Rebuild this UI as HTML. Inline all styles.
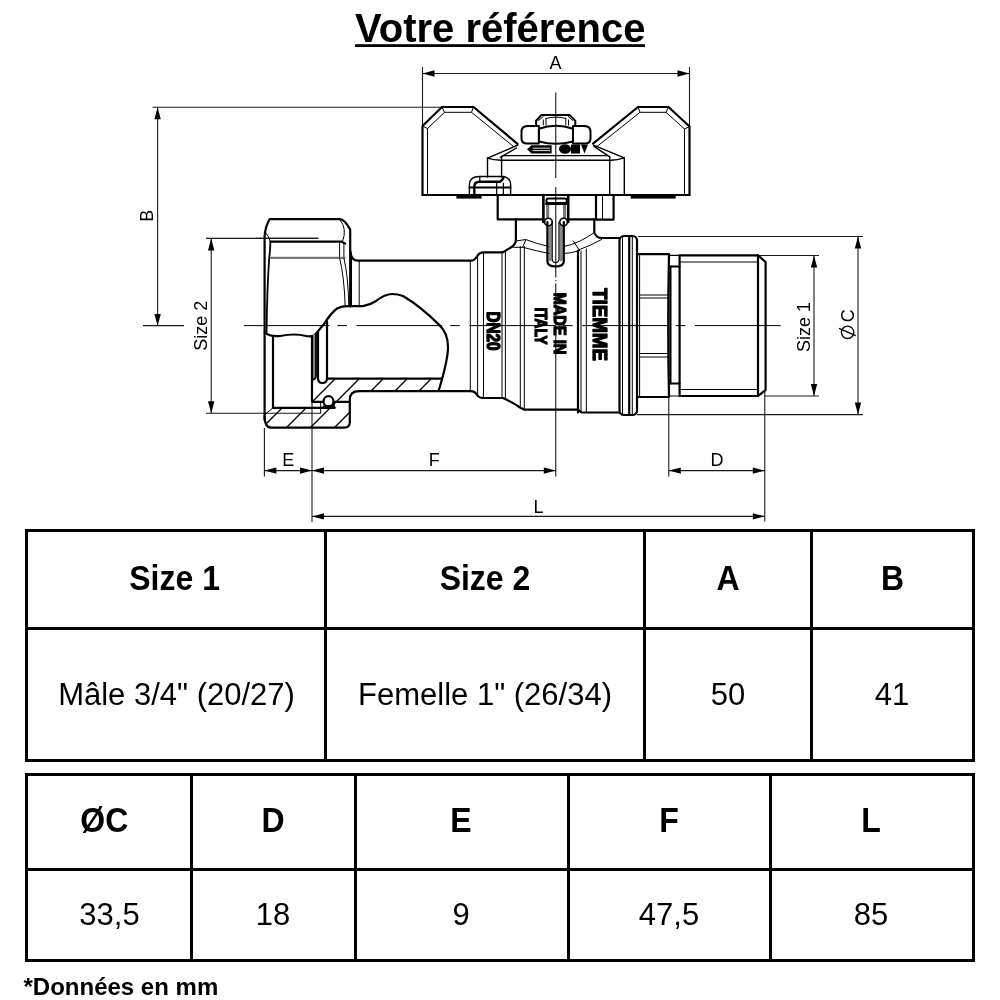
<!DOCTYPE html>
<html><head><meta charset="utf-8"><style>
html,body{margin:0;padding:0;background:#fff;width:1000px;height:1000px;overflow:hidden}
svg{display:block}
text{font-family:"Liberation Sans",sans-serif}
</style></head><body>
<svg style="will-change:transform" width="1000" height="1000" viewBox="0 0 1000 1000" font-family="Liberation Sans">
<g stroke="#000" fill="none">
<line x1="422.5" y1="67" x2="422.5" y2="125" stroke-width="1.1"  stroke="#1a1a1a"/>
<line x1="689.5" y1="67" x2="689.5" y2="126" stroke-width="1.1"  stroke="#1a1a1a"/>
<line x1="422.5" y1="73.5" x2="689.5" y2="73.5" stroke-width="1.1"  stroke="#1a1a1a"/>
</g>
<polygon points="422.5,73.5 434.5,70.3 434.5,76.7" fill="#000" stroke="none"/>
<polygon points="689.5,73.5 677.5,70.3 677.5,76.7" fill="#000" stroke="none"/>
<g stroke="#000" fill="none">
<line x1="152.5" y1="107.3" x2="443" y2="107.3" stroke-width="1.1"  stroke="#1a1a1a"/>
<line x1="157.6" y1="107.3" x2="157.6" y2="326" stroke-width="1.1"  stroke="#1a1a1a"/>
<line x1="143" y1="325.6" x2="184" y2="325.6" stroke-width="1.1"  stroke="#1a1a1a"/>
<line x1="206" y1="238.4" x2="318" y2="238.4" stroke-width="1.1"  stroke="#1a1a1a"/>
<line x1="206" y1="413.3" x2="320.4" y2="413.3" stroke-width="1.1"  stroke="#1a1a1a"/>
<line x1="211.2" y1="238.4" x2="211.2" y2="413.3" stroke-width="1.1"  stroke="#1a1a1a"/>
<line x1="758" y1="255.5" x2="819" y2="255.5" stroke-width="1.1"  stroke="#1a1a1a"/>
<line x1="765" y1="396" x2="819" y2="396" stroke-width="1.1"  stroke="#1a1a1a"/>
<line x1="814" y1="255.5" x2="814" y2="396" stroke-width="1.1"  stroke="#1a1a1a"/>
<line x1="638" y1="236.5" x2="863" y2="236.5" stroke-width="1.1"  stroke="#1a1a1a"/>
<line x1="637" y1="414.6" x2="863" y2="414.6" stroke-width="1.1"  stroke="#1a1a1a"/>
<line x1="858" y1="236.5" x2="858" y2="414.6" stroke-width="1.1"  stroke="#1a1a1a"/>
<line x1="264.4" y1="428" x2="264.4" y2="476.5" stroke-width="1.1"  stroke="#1a1a1a"/>
<line x1="312" y1="403" x2="312" y2="522" stroke-width="1.1"  stroke="#1a1a1a"/>
<line x1="668.8" y1="397" x2="668.8" y2="476.5" stroke-width="1.1"  stroke="#1a1a1a"/>
<line x1="764.8" y1="390" x2="764.8" y2="521.5" stroke-width="1.1"  stroke="#1a1a1a"/>
<line x1="264.4" y1="470.6" x2="555.8" y2="470.6" stroke-width="1.1"  stroke="#1a1a1a"/>
<line x1="668.8" y1="470.6" x2="764.8" y2="470.6" stroke-width="1.1"  stroke="#1a1a1a"/>
<line x1="312" y1="516.4" x2="764.8" y2="516.4" stroke-width="1.1"  stroke="#1a1a1a"/>
</g>
<polygon points="157.6,107.3 154.4,119.3 160.79999999999998,119.3" fill="#000" stroke="none"/>
<polygon points="157.6,326 154.4,314 160.79999999999998,314" fill="#000" stroke="none"/>
<polygon points="211.2,238.4 208.0,250.4 214.39999999999998,250.4" fill="#000" stroke="none"/>
<polygon points="211.2,413.3 208.0,401.3 214.39999999999998,401.3" fill="#000" stroke="none"/>
<polygon points="814,255.5 810.8,267.5 817.2,267.5" fill="#000" stroke="none"/>
<polygon points="814,396 810.8,384 817.2,384" fill="#000" stroke="none"/>
<polygon points="858,236.5 854.8,248.5 861.2,248.5" fill="#000" stroke="none"/>
<polygon points="858,414.6 854.8,402.6 861.2,402.6" fill="#000" stroke="none"/>
<polygon points="264.4,470.6 276.4,467.40000000000003 276.4,473.8" fill="#000" stroke="none"/>
<polygon points="312,470.6 300,467.40000000000003 300,473.8" fill="#000" stroke="none"/>
<polygon points="312,470.6 324,467.40000000000003 324,473.8" fill="#000" stroke="none"/>
<polygon points="555.8,470.6 543.8,467.40000000000003 543.8,473.8" fill="#000" stroke="none"/>
<polygon points="668.8,470.6 680.8,467.40000000000003 680.8,473.8" fill="#000" stroke="none"/>
<polygon points="764.8,470.6 752.8,467.40000000000003 752.8,473.8" fill="#000" stroke="none"/>
<polygon points="312,516.4 324,513.1999999999999 324,519.6" fill="#000" stroke="none"/>
<polygon points="764.8,516.4 752.8,513.1999999999999 752.8,519.6" fill="#000" stroke="none"/>
<text x="555.4" y="69.2" font-size="18" font-weight="normal" text-anchor="middle" >A</text>
<text x="153.2" y="215.8" font-size="18" font-weight="normal" text-anchor="middle" transform="rotate(-90 153.2 215.8)" >B</text>
<text x="207" y="325.7" font-size="18" font-weight="normal" text-anchor="middle" transform="rotate(-90 207 325.7)" >Size 2</text>
<text x="810" y="327" font-size="18" font-weight="normal" text-anchor="middle" transform="rotate(-90 810 327)" >Size 1</text>
<text x="854" y="315.8" font-size="18" font-weight="normal" text-anchor="middle" transform="rotate(-90 854 315.8)" >C</text>
<circle cx="847.6" cy="332.3" r="6.2" fill="none" stroke="#000" stroke-width="1.3"/>
<line x1="839" y1="328.4" x2="855.8" y2="335.7" stroke="#000" stroke-width="1.3"/>
<text x="288.3" y="466" font-size="18" font-weight="normal" text-anchor="middle" >E</text>
<text x="434.3" y="466" font-size="18" font-weight="normal" text-anchor="middle" >F</text>
<text x="717" y="466" font-size="18" font-weight="normal" text-anchor="middle" >D</text>
<text x="538.5" y="512.7" font-size="18" font-weight="normal" text-anchor="middle" >L</text>
<g stroke="#000" fill="none">
<line x1="243.8" y1="325.6" x2="780.6" y2="325.6" stroke-width="1.0" stroke-dasharray="85.6 8 9.6 9.6"/>
<line x1="555.8" y1="92.5" x2="555.8" y2="178" stroke-width="1.0" />
<line x1="555.8" y1="187" x2="555.8" y2="277.5" stroke-width="1.0" />
<line x1="555.8" y1="280" x2="555.8" y2="281" stroke-width="1.0" />
<line x1="555.8" y1="283.5" x2="555.8" y2="476.5" stroke-width="1.0" />
</g>
<g stroke="#000" fill="none" stroke-linejoin="round" stroke-linecap="round">
<path d="M422.5,195 V126 L442,107 H473.5 L517.5,143.8" stroke-width="2.2" />
<path d="M427.5,195 V128.5 L444.5,112.3 H471.5 L513.5,146.5" stroke-width="1.0" />
<line x1="422.5" y1="126" x2="427.5" y2="128.5" stroke-width="1.0" />
<line x1="442" y1="107" x2="444.5" y2="112.3" stroke-width="1.0" />
<line x1="473.5" y1="107" x2="471.5" y2="112.3" stroke-width="1.0" />
<path d="M689.5,195 V126.5 L668.5,107 H638 L593,143.6" stroke-width="2.2" />
<path d="M684.5,195 V129 L666,112.3 H640 L597,146.5" stroke-width="1.0" />
<line x1="689.5" y1="126.5" x2="684.5" y2="129" stroke-width="1.0" />
<line x1="668.5" y1="107" x2="666" y2="112.3" stroke-width="1.0" />
<line x1="638" y1="107" x2="640" y2="112.3" stroke-width="1.0" />
<path d="M422.5,195 H510" stroke-width="2.2" />
<path d="M543.4,195 H689.5" stroke-width="2.2" />
<path d="M497.7,195 H543.4" stroke-width="2.2" />
<path d="M487.5,158.2 L518,145 M624.3,157.8 L593.5,145.2" stroke-width="1.4" />
<path d="M500.5,157.2 L516.5,148 M609.7,156.8 L594,146.3" stroke-width="1.4" />
<path d="M503,155.6 H607" stroke-width="1.4" />
<path d="M487.5,158.2 Q494,160.3 501.5,160.2 H611 Q617,160 624.3,157.8" stroke-width="1.4" />
<path d="M487.5,158.2 V177 M501.6,156.5 V177" stroke-width="1.4" />
<path d="M624.3,157.8 V195 M609.7,157 V195" stroke-width="1.4" />
<path d="M469.4,195 V185 Q469.4,176.5 479.5,176.5 H504 Q510.6,178 510.6,185 V195" stroke-width="1.4" />
<path d="M474.3,195 V187 Q474.3,181.8 479.5,181.8 H499.8 Q502.5,180.5 503.5,177.5" stroke-width="2.4" />
<path d="M469.4,187.4 H510.6" stroke-width="2.0" />
<path d="M479.8,176.5 V181.8 M496.7,183 V195 M503.4,183 V195" stroke-width="1.2" />
<rect x="456.4" y="195.5" width="25.2" height="3.1" fill="#000" stroke="none"/>
<rect x="630.7" y="195.5" width="45" height="3.1" fill="#000" stroke="none"/>
<path d="M538.9,125.9 H527.5 Q521.5,126.2 521.5,131.5 V138.5 Q521.5,143.6 527,143.6 H538.9 Z" stroke-width="2.0" />
<path d="M573,125.9 H584.5 Q590.5,126.2 590.5,131.5 V138.5 Q590.5,143.6 585,143.6 H573 Z" stroke-width="2.0" />
<path d="M538.9,128.8 Q556,122.8 573,128.8 V141.5 Q556,146 538.9,141.5 Z" stroke-width="2.0" />
<path d="M536.1,125.7 V120.75 L541.5,114.9 H569.4 L575.3,120.75 V125.7" stroke-width="2.0" />
<path d="M543.3,125 V120 M546,125 V118.2 M565.8,125 V118.2 M568.5,125 V120 M538.6,120.5 L543.3,116.5 M572.8,120.5 L568.3,116.5" stroke-width="1.0" />
<path d="M546,118.5 Q556,115.6 565.8,118.5" stroke-width="1.0" />
<path d="M527,149.3 L531.5,145.3 H551.6 V153.4 H531.5 Z" fill="#000" stroke="none"/>
<path d="M533,148.2 H549.6 M533,150.6 H549.6" stroke="#fff" stroke-width="0.9"/>
<ellipse cx="565" cy="149" rx="6" ry="4.8" fill="#000" stroke="none"/>
<path d="M571,144.5 H580 V153.6 H571 Z M581,144.5 H588 L584.5,153.6 Z" fill="#000" stroke="none"/>
<path d="M497.7,195 V219.3 H543.4" stroke-width="2.2" />
<path d="M566.8,219.3 H594.3" stroke-width="2.2" />
<path d="M596,195 V219.6 H613.6 V195" stroke-width="2.2" />
<path d="M602.5,195 V219.6" stroke-width="1.0" />
<rect x="546.2" y="204" width="3" height="14" fill="#777" stroke="none"/>
<rect x="563" y="204" width="3" height="14" fill="#777" stroke="none"/>
<rect x="548.6" y="224" width="3" height="37" fill="#888" stroke="none"/>
<rect x="559.8" y="224" width="3" height="37" fill="#888" stroke="none"/>
<path d="M543.4,195 V222 M568.2,195 V222" stroke-width="2.6" />
<rect x="546.4" y="198.4" width="20.4" height="4.6" rx="2" stroke-width="2"/>
<path d="M546,203.8 H567" stroke-width="2.2" />
<circle cx="548.4" cy="222" r="3.8" stroke-width="1.6" fill="#fff"/>
<circle cx="563.6" cy="222" r="3.8" stroke-width="1.6" fill="#fff"/>
<path d="M547.4,222 V261 Q547.4,266.5 555.6,266.5 Q563.8,266.5 563.8,261 V222" stroke-width="2.2" />
<path d="M552.2,222 V259 Q552.2,262.5 555.6,262.5 Q559,262.5 559,259 V222" stroke-width="1.2" />
<path d="M515.9,219.3 V239.5 Q515.9,244 512,246.8 L505.5,250.8 Q503.5,252.4 500,252.4 H483 Q479,252.6 477,256.5 Q474.5,260.7 470.5,260.7 H358 Q351,260.7 350.2,251" stroke-width="2.2" />
<path d="M594.3,219.3 V232.5 Q596,238 602,238 H619.5" stroke-width="2.2" />
<path d="M516,241 L525.8,239.5 Q537,244 548.8,246.5" stroke-width="1.0" />
<path d="M513.5,247.3 L523,247.3 Q537,251 548.8,253.5" stroke-width="1.0" />
<path d="M525.7,240.2 L522.9,246.5" stroke-width="1.0" />
<path d="M564.2,246.5 Q580,243 594.3,232.5" stroke-width="1.0" />
<path d="M564.2,253.5 Q571,253 576.8,251.4" stroke-width="1.0" />
<path d="M573.3,240.9 L579.6,250.7" stroke-width="1.0" />
<path d="M579.6,249.5 Q590,246 601.6,239.5" stroke-width="1.0" />
<path d="M358.8,391.2 H470.5 Q475,391.2 477,395 Q479,398 483,398 H503 Q512,402 520,407.5 L524.4,409.7 H578 L581.6,412.5 H619.5" stroke-width="2.2" />
<line x1="470.3" y1="260.7" x2="470.3" y2="391.2" stroke-width="1.0" />
<line x1="477.6" y1="257.5" x2="477.6" y2="395" stroke-width="1.0" />
<line x1="483.5" y1="253" x2="483.5" y2="398" stroke-width="1.0" />
<line x1="502" y1="252.2" x2="502" y2="398" stroke-width="1.0" />
<line x1="505.4" y1="252.2" x2="505.4" y2="398" stroke-width="1.0" />
<line x1="520.3" y1="246.5" x2="520.3" y2="407.5" stroke-width="1.0" />
<line x1="524.3" y1="246.5" x2="524.3" y2="409.7" stroke-width="1.0" />
<line x1="578" y1="250.5" x2="578" y2="412.5" stroke-width="2.2" />
<line x1="581" y1="251" x2="581" y2="412.5" stroke-width="1.0" />
<line x1="586.3" y1="249" x2="586.3" y2="412.5" stroke-width="1.0" />
<rect x="619.5" y="236" width="17.5" height="179" rx="4.5" stroke-width="2.2"/>
<line x1="622.5" y1="237" x2="622.5" y2="414" stroke-width="1.0" />
<line x1="629.2" y1="236.5" x2="629.2" y2="414.5" stroke-width="2.2" />
<line x1="632.3" y1="237" x2="632.3" y2="414" stroke-width="1.0" />
<path d="M637,254.2 H669 Q667.4,325.6 669,397 H637" stroke-width="2.2" />
<line x1="639.6" y1="255" x2="639.6" y2="396" stroke-width="1.0" />
<path d="M640,295 H668 M640,298 H668 M640,353.5 H668 M640,357 H668" stroke-width="1.0" />
<path d="M669,255.3 H680 M669,396 H680" stroke-width="1.2" />
<path d="M669.5,266.5 H679.5 M669.5,383.5 H679.5" stroke-width="2.2" />
<line x1="670.4" y1="266.5" x2="670.4" y2="383.5" stroke-width="2.2" />
<path d="M679.6,255.3 H758 L765.6,262 V390 L758,396 H679.6 Z" stroke-width="2.2" />
<line x1="758" y1="255.3" x2="758" y2="396" stroke-width="2.2" />
<path d="M680,262 H758 M680,389.5 H758" stroke-width="1.0" />
<path d="M264.6,420 V236 Q265.5,226 269.5,219.2 H340 Q344.5,219.5 350.2,229.5 V306.5" stroke-width="2.2" />
<path d="M264.8,232 Q268.8,235.5 270.4,241.6" stroke-width="1.0" />
<path d="M270.4,241.6 Q270.3,250 269.2,258 Q267,290 266.6,332" stroke-width="1.8" />
<path d="M340,219.8 Q347.5,229 342.5,241.6" stroke-width="1.0" />
<path d="M270.6,241.6 H341.5 L345.3,243.6" stroke-width="2.2" />
<line x1="339.6" y1="242" x2="339.6" y2="257.6" stroke-width="1.0" />
<line x1="343.9" y1="243" x2="343.9" y2="257.6" stroke-width="1.0" />
<path d="M270.8,257.8 H344.4" stroke-width="2.2" stroke="#777"/>
<path d="M339.6,258 Q344.2,276 345.2,306 M343.9,258 Q348.2,276 348.8,306" stroke-width="1.0" />
<line x1="256" y1="238.4" x2="318" y2="238.4" stroke-width="1.1"  stroke="#1a1a1a"/>
<line x1="351.5" y1="252.5" x2="351.5" y2="306.5" stroke-width="1.0" />
<line x1="359.2" y1="260.7" x2="359.2" y2="306" stroke-width="1.0" />
<path d="M264.6,332.4 Q270,337 280,336 Q295,333 306,336 Q311,337 314.5,335.5 Q319,330 324,324 Q331,313 337,308.5 Q342,306 349,306.2 H363 Q370,305 376,301 Q385,294 392,294 Q398,294 403,296 Q420,306 439,324.6 Q448,333 448,347 Q448,360 439,389.5" stroke-width="2.2" />
<path d="M273,336 V407.8 H334.8" stroke-width="2.2" />
<rect x="312" y="334.5" width="4" height="44.5" fill="#888" stroke="none"/>
<path d="M312,336 V401.8 H322.8" stroke-width="2.2" />
<path d="M316,334.5 V376 Q316,379 313,379.5" stroke-width="1.8" />
<path d="M318,331 V378 Q318,383 322.5,383 Q327,383 327,378 V321.6" stroke-width="2.2" />
<path d="M327,378.6 H441" stroke-width="2.2" />
<path d="M334.8,401.8 H349.8" stroke-width="2.2" />
<path d="M322.8,405.4 H332.4 V402 H334.8 V408.6 H322.8 Z" fill="#000" stroke="none"/>
<circle cx="328.5" cy="401.2" r="5" stroke-width="2.2" fill="#fff"/>
<path d="M273,407.8 L265,414.4" stroke-width="1.0" />
<path d="M264.6,416 Q264.8,427.6 271,427.6 H344.5 Q349.8,427.6 349.8,422 V400 Q349.8,391.2 358.8,391.2" stroke-width="2.2" />
<line x1="320.7" y1="402.7" x2="320.7" y2="413.3" stroke-width="1.0" />
<clipPath id="h1"><polygon points="311.4,379 441,379 439,391.2 357,391.2 349.8,398 349.8,402 311.4,402"/></clipPath>
<clipPath id="h2"><polygon points="273,407.8 334,407.8 334,402 349.8,402 350.4,421.6 345,427.6 267,427.6 265,414.4"/></clipPath>
<g clip-path="url(#h1)">
<line x1="192" y1="450" x2="272" y2="370" stroke-width="1.3" />
<line x1="216" y1="450" x2="296" y2="370" stroke-width="1.3" />
<line x1="240" y1="450" x2="320" y2="370" stroke-width="1.3" />
<line x1="264" y1="450" x2="344" y2="370" stroke-width="1.3" />
<line x1="288" y1="450" x2="368" y2="370" stroke-width="1.3" />
<line x1="312" y1="450" x2="392" y2="370" stroke-width="1.3" />
<line x1="336" y1="450" x2="416" y2="370" stroke-width="1.3" />
<line x1="360" y1="450" x2="440" y2="370" stroke-width="1.3" />
<line x1="384" y1="450" x2="464" y2="370" stroke-width="1.3" />
<line x1="408" y1="450" x2="488" y2="370" stroke-width="1.3" />
<line x1="432" y1="450" x2="512" y2="370" stroke-width="1.3" />
<line x1="456" y1="450" x2="536" y2="370" stroke-width="1.3" />
<line x1="480" y1="450" x2="560" y2="370" stroke-width="1.3" />
<line x1="504" y1="450" x2="584" y2="370" stroke-width="1.3" />
</g>
<g clip-path="url(#h2)">
<line x1="192" y1="450" x2="272" y2="370" stroke-width="1.3" />
<line x1="216" y1="450" x2="296" y2="370" stroke-width="1.3" />
<line x1="240" y1="450" x2="320" y2="370" stroke-width="1.3" />
<line x1="264" y1="450" x2="344" y2="370" stroke-width="1.3" />
<line x1="288" y1="450" x2="368" y2="370" stroke-width="1.3" />
<line x1="312" y1="450" x2="392" y2="370" stroke-width="1.3" />
<line x1="336" y1="450" x2="416" y2="370" stroke-width="1.3" />
<line x1="360" y1="450" x2="440" y2="370" stroke-width="1.3" />
<line x1="384" y1="450" x2="464" y2="370" stroke-width="1.3" />
<line x1="408" y1="450" x2="488" y2="370" stroke-width="1.3" />
<line x1="432" y1="450" x2="512" y2="370" stroke-width="1.3" />
<line x1="456" y1="450" x2="536" y2="370" stroke-width="1.3" />
<line x1="480" y1="450" x2="560" y2="370" stroke-width="1.3" />
<line x1="504" y1="450" x2="584" y2="370" stroke-width="1.3" />
</g>
</g>
<g font-family="Liberation Sans" font-weight="bold" fill="#000" stroke="#000" stroke-width="1.3" stroke-linejoin="round">
<text transform="translate(487,331) rotate(90) scale(1,1.05)" font-size="17" text-anchor="middle" textLength="39" lengthAdjust="spacingAndGlyphs">DN20</text>
<text transform="translate(553.5,323.4) rotate(90)" font-size="17" text-anchor="middle" textLength="62" lengthAdjust="spacingAndGlyphs">MADE IN</text>
<text transform="translate(534.6,326) rotate(90)" font-size="17" text-anchor="middle" textLength="37" lengthAdjust="spacingAndGlyphs">ITALY</text>
<text transform="translate(593.4,324.5) rotate(90)" font-size="21" text-anchor="middle" textLength="73" lengthAdjust="spacingAndGlyphs">TIEMME</text>
</g>
<g fill="#000" stroke="none">
<rect x="25" y="529" width="950" height="3"/>
<rect x="25" y="627" width="950" height="3"/>
<rect x="25" y="759" width="950" height="3"/>
<rect x="25" y="529" width="3" height="233"/>
<rect x="324" y="529" width="3" height="233"/>
<rect x="643" y="529" width="3" height="233"/>
<rect x="810" y="529" width="3" height="233"/>
<rect x="972" y="529" width="3" height="233"/>
<rect x="25" y="773" width="950" height="3"/>
<rect x="25" y="868" width="950" height="3"/>
<rect x="25" y="959" width="950" height="3"/>
<rect x="25" y="773" width="3" height="189"/>
<rect x="190" y="773" width="3" height="189"/>
<rect x="354" y="773" width="3" height="189"/>
<rect x="567" y="773" width="3" height="189"/>
<rect x="769" y="773" width="3" height="189"/>
<rect x="972" y="773" width="3" height="189"/>
</g>
<g font-family="Liberation Sans" fill="#000">
<text transform="translate(174.6,590.2) scale(1,1.12)" x="0" y="0" font-size="32" font-weight="bold" text-anchor="middle">Size 1</text>
<text transform="translate(485,590.2) scale(1,1.12)" x="0" y="0" font-size="32" font-weight="bold" text-anchor="middle">Size 2</text>
<text transform="translate(728,590.2) scale(1,1.12)" x="0" y="0" font-size="32" font-weight="bold" text-anchor="middle">A</text>
<text transform="translate(892.5,590.2) scale(1,1.12)" x="0" y="0" font-size="32" font-weight="bold" text-anchor="middle">B</text>
<text x="176.5" y="704.8" font-size="31" font-weight="normal" text-anchor="middle" >Mâle 3/4" (20/27)</text>
<text x="485" y="704.8" font-size="31" font-weight="normal" text-anchor="middle" >Femelle 1" (26/34)</text>
<text x="728" y="704.8" font-size="31" font-weight="normal" text-anchor="middle" >50</text>
<text x="892" y="704.8" font-size="31" font-weight="normal" text-anchor="middle" >41</text>
<text transform="translate(104.3,831.7) scale(1,1.09)" x="0" y="0" font-size="32" font-weight="bold" text-anchor="middle">ØC</text>
<text transform="translate(273,831.7) scale(1,1.09)" x="0" y="0" font-size="32" font-weight="bold" text-anchor="middle">D</text>
<text transform="translate(461,831.7) scale(1,1.09)" x="0" y="0" font-size="32" font-weight="bold" text-anchor="middle">E</text>
<text transform="translate(669,831.7) scale(1,1.09)" x="0" y="0" font-size="32" font-weight="bold" text-anchor="middle">F</text>
<text transform="translate(871,831.7) scale(1,1.09)" x="0" y="0" font-size="32" font-weight="bold" text-anchor="middle">L</text>
<text x="109.5" y="924.7" font-size="31" font-weight="normal" text-anchor="middle" >33,5</text>
<text x="273" y="924.7" font-size="31" font-weight="normal" text-anchor="middle" >18</text>
<text x="461" y="924.7" font-size="31" font-weight="normal" text-anchor="middle" >9</text>
<text x="669" y="924.7" font-size="31" font-weight="normal" text-anchor="middle" >47,5</text>
<text x="871" y="924.7" font-size="31" font-weight="normal" text-anchor="middle" >85</text>
<text x="23.5" y="994.5" font-size="24" font-weight="bold" text-anchor="start" >*Données en mm</text>
<text x="355" y="41.8" font-size="40" font-weight="bold" text-anchor="start" >Votre référence</text>
<rect x="355" y="44.2" width="290" height="2.8"/>
</g>
</svg>
</body></html>
